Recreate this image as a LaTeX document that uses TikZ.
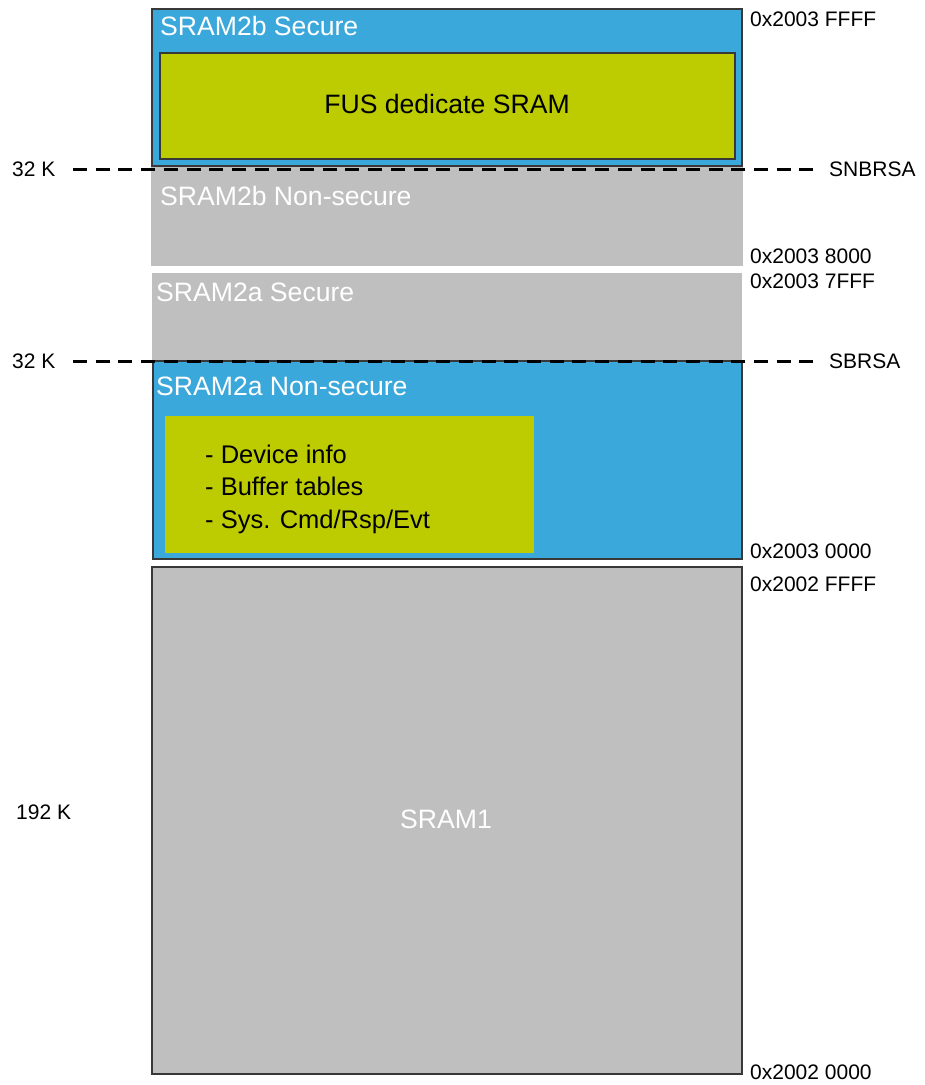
\documentclass[tikz,border=0pt]{standalone}
\usepackage{fontspec}
\setmainfont{Liberation Sans}
\definecolor{memblue}{RGB}{58,168,219}
\definecolor{olive}{RGB}{189,204,0}
\definecolor{memgray}{RGB}{191,191,191}
\definecolor{edge}{RGB}{56,56,56}
\tikzset{
  region/.style={anchor=north west, inner sep=0pt, outer sep=0pt, line width=1.3pt},
  bluebox/.style={region, fill=memblue, draw=edge},
  graybox/.style={region, fill=memgray},
  graybord/.style={region, fill=memgray, draw=edge},
  olivebox/.style={region, fill=olive},
  title/.style={anchor=base west, inner sep=0pt, text=white, font=\fontsize{26.6}{30}\selectfont},
  lbl/.style={anchor=base west, inner sep=0pt, text=black, font=\fontsize{21}{24}\selectfont},
  body/.style={inner sep=0pt, text=black, font=\fontsize{26.6}{30}\selectfont},
  item/.style={anchor=base west, inner sep=0pt, text=black, font=\fontsize{25.5}{30}\selectfont},
  border/.style={line width=3pt, dash pattern=on 14pt off 8.7pt, black}
}
\begin{document}
\begin{tikzpicture}[x=1pt,y=-1pt]
\useasboundingbox (0,0) rectangle (925,1085);
% SRAM2b
\node[bluebox, minimum width=590, minimum height=157] (s2bsec) at (152,9) {};
\node[olivebox, draw=edge, minimum width=575, minimum height=106] (fus) at (160,53) {};
\node[graybox, minimum width=592, minimum height=99] (s2bns) at (151,166.5) {};
% SRAM2a
\node[graybox, minimum width=590, minimum height=88] (s2asec) at (152,273) {};
\node[bluebox, minimum width=589, minimum height=198] (s2ans) at (153,361) {};
\node[olivebox, minimum width=369, minimum height=137] (info) at (165,416) {};
% SRAM1
\node[graybord, minimum width=590, minimum height=507] (s1) at (152,567) {};

% titles
\node[title] (t1) at (160,35) {SRAM2b Secure};
\node[title] (t2) at (160,205) {SRAM2b Non-secure};
\node[title] (t3) at (156,301.5) {SRAM2a Secure};
\node[title] (t4) at (156,395) {SRAM2a Non-secure};
\node[body, anchor=base] (fust) at (447,113.3) {FUS dedicate SRAM};
\node[body, anchor=base, text=white] (s1t) at (446,828) {SRAM1};
\node[item] (i1) at (205,463.3) {- Device info};
\node[item] (i2) at (205,495.5) {- Buffer tables};
\node[item] (i3) at (205,528) {- Sys. Cmd/Rsp/Evt};

% size labels
\node[lbl] (k1) at (12,176) {32 K};
\node[lbl] (k2) at (12,368) {32 K};
\node[lbl] (k3) at (16,819) {192 K};
\node[lbl] (snb) at (829,176) {SNBRSA};
\node[lbl] (sb) at (829,368) {SBRSA};

% addresses
\node[lbl] (a1) at (750,26) {0x2003 FFFF};
\node[lbl] (a2) at (750,263.5) {0x2003 8000};
\node[lbl] (a3) at (750,288) {0x2003 7FFF};
\node[lbl] (a4) at (750,558) {0x2003 0000};
\node[lbl] (a5) at (750,591.5) {0x2002 FFFF};
\node[lbl] (a6) at (750,1079) {0x2002 0000};

% boundary lines
\coordinate (d1a) at (73,169.5);
\coordinate (d1b) at (815,169.5);
\coordinate (d2a) at (73,361.5);
\coordinate (d2b) at (815,361.5);
\draw[border] (d1a) -- (d1b);
\draw[border] (d2a) -- (d2b);
\end{tikzpicture}
\end{document}
